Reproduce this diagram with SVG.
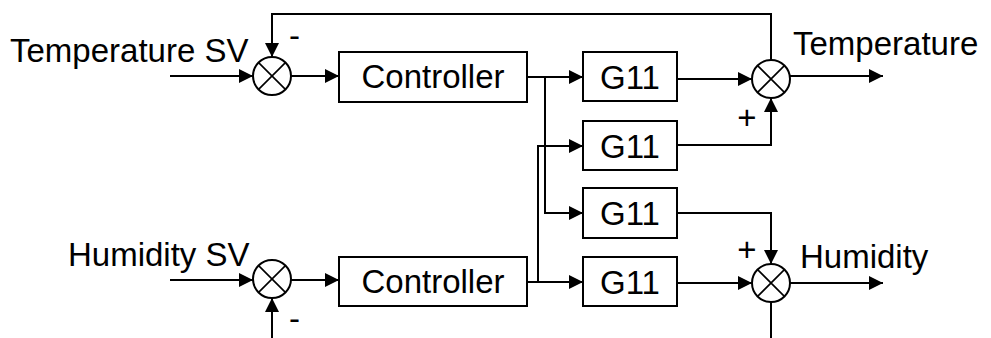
<svg xmlns="http://www.w3.org/2000/svg" width="991" height="338" viewBox="0 0 991 338">
  <style>
    .box { fill: #ffffff; stroke: #000000; stroke-width: 2; }
    .sum { fill: #ffffff; stroke: #000000; stroke-width: 2; }
    .x { stroke: #000000; stroke-width: 1.6; fill: none; }
    .wire { fill: none; stroke: #000000; stroke-width: 2; }
    .arr { marker-end: url(#ah); }
    text { font-family: "Liberation Sans", Arial, sans-serif; font-size: 33px; fill: #000000; }
    .c { text-anchor: middle; }
  </style>
  <defs>
    <marker id="ah" viewBox="0 0 10 10" refX="10" refY="5" markerWidth="15" markerHeight="14" markerUnits="userSpaceOnUse" orient="auto">
      <path d="M0,0 L10,5 L0,10 Z" fill="#000000"/>
    </marker>
  </defs>
  <rect width="991" height="338" fill="#ffffff"/>

  <g id="connectors">
    <!-- top inputs -->
    <path class="wire arr" d="M170,76 H253"/>
    <path class="wire arr" d="M291,76 H339"/>
    <path class="wire arr" d="M527,77 H583"/>
    <path class="wire arr" d="M545,77 V213 H583"/>
    <path class="wire arr" d="M677,79 H752"/>
    <path class="wire arr" d="M677,145 H771 V98"/>
    <path class="wire arr" d="M790,76 H883"/>
    <path class="wire arr" d="M771,60 V14 H272 V57"/>
    <!-- bottom -->
    <path class="wire arr" d="M170,280 H253"/>
    <path class="wire arr" d="M291,280 H339"/>
    <path class="wire arr" d="M527,282 H583"/>
    <path class="wire arr" d="M538,282 V146 H583"/>
    <path class="wire arr" d="M677,283 H752"/>
    <path class="wire arr" d="M677,213 H771 V264"/>
    <path class="wire arr" d="M790,283 H883"/>
    <path class="wire" d="M771,302 V338"/>
    <path class="wire arr" d="M272,338 V298"/>
  </g>

  <g id="label-temp-sv"><text x="10" y="62">Temperature SV</text></g>
  <g id="label-hum-sv"><text x="68" y="266">Humidity SV</text></g>
  <g id="label-temp"><text x="793" y="55">Temperature</text></g>
  <g id="label-hum"><text x="800" y="268">Humidity</text></g>

  <g id="sum-temp-in">
    <circle class="sum" cx="272" cy="76" r="19"/>
    <path class="x" d="M258.6,62.6 L285.4,89.4 M285.4,62.6 L258.6,89.4"/>
  </g>
  <g id="sum-hum-in">
    <circle class="sum" cx="272" cy="279" r="19"/>
    <path class="x" d="M258.6,265.6 L285.4,292.4 M285.4,265.6 L258.6,292.4"/>
  </g>
  <g id="sum-temp-out">
    <circle class="sum" cx="771" cy="79" r="19"/>
    <path class="x" d="M757.6,65.6 L784.4,92.4 M784.4,65.6 L757.6,92.4"/>
  </g>
  <g id="sum-hum-out">
    <circle class="sum" cx="771" cy="283" r="19"/>
    <path class="x" d="M757.6,269.6 L784.4,296.4 M784.4,269.6 L757.6,296.4"/>
  </g>

  <g id="controller-temp">
    <rect class="box" x="339" y="52" width="188" height="50"/>
    <text class="c" x="433" y="88">Controller</text>
  </g>
  <g id="controller-hum">
    <rect class="box" x="339" y="257" width="188" height="49"/>
    <text class="c" x="433" y="293">Controller</text>
  </g>

  <g id="g11-1">
    <rect class="box" x="583" y="52" width="94" height="49"/>
    <text class="c" x="630" y="89">G11</text>
  </g>
  <g id="g11-2">
    <rect class="box" x="583" y="121" width="94" height="49"/>
    <text class="c" x="630" y="158">G11</text>
  </g>
  <g id="g11-3">
    <rect class="box" x="583" y="188" width="94" height="50"/>
    <text class="c" x="630" y="225">G11</text>
  </g>
  <g id="g11-4">
    <rect class="box" x="583" y="257" width="94" height="49"/>
    <text class="c" x="630" y="294">G11</text>
  </g>

  <g id="signs">
    <text x="289" y="47">-</text>
    <text x="289" y="330">-</text>
    <text class="c" x="747" y="129">+</text>
    <text class="c" x="747" y="261">+</text>
  </g>
</svg>
